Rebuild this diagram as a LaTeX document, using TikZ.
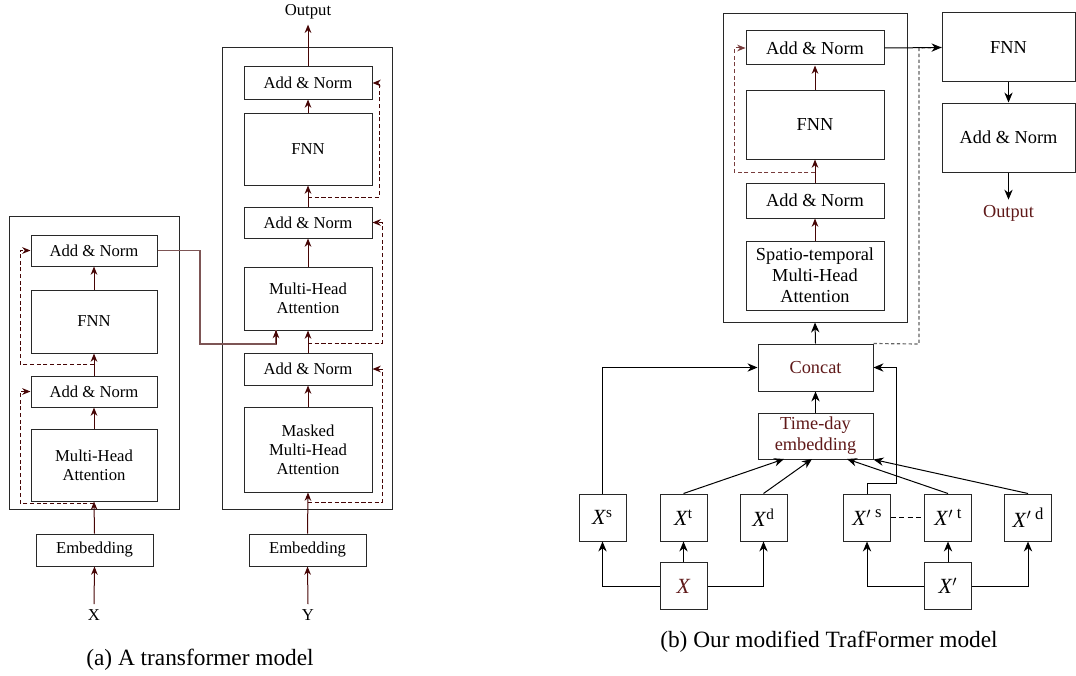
\documentclass[tikz,border=0pt]{standalone}
\usepackage{fontspec}
\setmainfont{Liberation Serif}
\usetikzlibrary{arrows.meta}
\definecolor{ared}{RGB}{70,5,5}
\definecolor{lred}{RGB}{125,85,85}
\definecolor{tred}{RGB}{95,25,25}
\definecolor{bline}{RGB}{40,40,40}
\definecolor{rbrown}{RGB}{120,60,60}
\definecolor{gline}{RGB}{100,100,100}
\begin{document}
\begin{tikzpicture}[x=0.6pt,y=-0.6pt,
  bx/.style n args={2}{draw=bline, line width=0.6pt, minimum width={#1*0.6pt}, minimum height={#2*0.6pt}, inner sep=1pt, align=center, anchor=center},
  fa/.style={font=\fontsize{10}{11.5}\selectfont},
  fb/.style={font=\fontsize{11}{12.5}\selectfont},
  fx/.style={font=\fontsize{13}{14}\selectfont},
  lbl/.style={inner sep=3pt},
  arr/.style={draw=ared, line width=0.6pt, -{Stealth[length=5pt,width=4pt]}},
  res/.style={draw=ared, line width=0.6pt, dash pattern=on 2.5pt off 1.5pt, -{Stealth[length=5pt,width=4pt]}},
  resb/.style={draw=rbrown, line width=0.6pt, dash pattern=on 2.5pt off 1.5pt, -{Stealth[length=5pt,width=4pt]}},
  conn/.style={draw=lred, line width=0.7pt},
  barr/.style={draw=black, line width=0.6pt, -{Stealth[length=6pt,width=5pt]}},
  gdash/.style={draw=gline, line width=0.7pt, dash pattern=on 2pt off 1.5pt},
  kdash/.style={draw=black, line width=0.6pt, dash pattern=on 3pt off 2pt},
]
\useasboundingbox (0,0) rectangle (1076,675);

% ================= (a) encoder =================
\node[bx={170}{293}] (encbox) at (94,362.5) {};
\node[bx={126}{31},fa] (eAN2) at (94,250.5) {Add \& Norm};
\node[bx={126}{63},fa] (eFNN) at (94,321.5) {FNN};
\node[bx={126}{31},fa] (eAN1) at (94,391.5) {Add \& Norm};
\node[bx={126}{72},fa] (eMHA) at (94,465) {Multi-Head\\Attention};
\node[bx={117}{32},fa] (eEmb) at (94.5,550) {Embedding};
\node[fa,lbl] (xin) at (94,615) {X};

\draw[arr] (xin.north) -- (eEmb.south);
\draw[arr] (eEmb.north) -- (eMHA.south);
\draw[arr] (eMHA.north) -- (eAN1.south);
\draw[arr] (eAN1.north) -- (eFNN.south);
\draw[arr] (eFNN.north) -- (eAN2.south);
\coordinate (eR1) at (94,503);
\coordinate (eR2) at (94,364);
\draw[res] (eR1) -- (20,503) |- (eAN1.west);
\draw[res] (eR2) -- (20,364) |- (eAN2.west);

% ================= (a) decoder =================
\node[bx={170}{461}] (decbox) at (307,278.5) {};
\node[bx={128}{32},fa] (dAN3) at (308,83) {Add \& Norm};
\node[bx={128}{72},fa] (dFNN) at (308,149) {FNN};
\node[bx={128}{31},fa] (dAN2) at (308,222.5) {Add \& Norm};
\node[bx={128}{63},fa] (dMHA) at (308,298.5) {Multi-Head\\Attention};
\node[bx={128}{32},fa] (dAN1) at (308,369) {Add \& Norm};
\node[bx={128}{85},fa] (dMMHA) at (308,449.5) {Masked\\Multi-Head\\Attention};
\node[bx={117}{32},fa] (dEmb) at (307.5,550) {Embedding};
\node[fa,lbl] (yin) at (308,615) {Y};
\node[fa,lbl] (dout) at (308,12) {Output};

\draw[arr] (yin.north) -- (dEmb.south);
\draw[arr] (dEmb.north) -- (dMMHA.south);
\draw[arr] (dMMHA.north) -- (dAN1.south);
\draw[arr] (dAN1.north) -- (dMHA.south);
\draw[arr] (dMHA.north) -- (dAN2.south);
\draw[arr] (dAN2.north) -- (dFNN.south);
\draw[arr] (dFNN.north) -- (dAN3.south);
\draw[arr] (dAN3.north) -- (dout.south);
\coordinate (dR1) at (308,502);
\coordinate (dR2) at (308,343);
\coordinate (dR3) at (308,197);
\draw[res] (dR1) -- (382,502) |- (dAN1.east);
\draw[res] (dR2) -- (382,343) |- (dAN2.east);
\draw[res] (dR3) -- (379,197) |- (dAN3.east);

% encoder -> decoder
\coordinate (dMHAin) at (276,330);
\draw[conn] (eAN2.east) -| (200,344) -| (dMHAin);
\draw[arr] (276,344) -- (dMHAin);

\node[font=\fontsize{14}{16}\selectfont] (capa) at (200,660) {(a) A transformer model};

% ================= (b) =================
\node[bx={184}{308}] (rbox) at (815,168) {};
\node[bx={138}{34},fb] (rAN2) at (815,48) {Add \& Norm};
\node[bx={138}{69},fb] (rFNN) at (815,124.5) {FNN};
\node[bx={138}{35},fb] (rAN1) at (815,200.5) {Add \& Norm};
\node[bx={138}{69},fb] (rMHA) at (815,275.5) {Spatio-temporal\\Multi-Head\\Attention};
\node[bx={115}{47},fb,text=tred] (concat) at (815.5,367.5) {Concat};
\node[bx={115}{46},fb,text=tred] (td) at (815.5,436) {Time-day\\embedding};
\node[bx={133}{69},fb] (fnn2) at (1008.5,47.5) {FNN};
\node[bx={133}{69},fb] (an2) at (1008.5,137.5) {Add \& Norm};
\node[fb,lbl,text=tred] (rout) at (1008.5,213) {Output};

\draw[arr] (rMHA.north) -- (rAN1.south);
\draw[arr] (rAN1.north) -- (rFNN.south);
\draw[arr] (rFNN.north) -- (rAN2.south);
\coordinate (rR1) at (815,172);
\draw[resb] (rR1) -- (734,172) |- (rAN2.west);
\draw[barr] (concat.north) -- (rbox.south);
\draw[barr] (td.north) -- (concat.south);
\draw[gdash] (concat.north east) -- (919,344) -- (919,48) -- (fnn2.west);
\draw[barr] (rAN2.east) -- (fnn2.west);
\draw[barr] (fnn2.south) -- (an2.north);
\draw[barr] (an2.south) -- (rout.north);

% inputs
\node[bx={47}{47},fx] (xs) at (602.5,517.5) {\textit{X}\textsuperscript{s}};
\node[bx={47}{47},fx] (xt) at (683.5,517.5) {\textit{X}\textsuperscript{t}};
\node[bx={47}{47},fx] (xd) at (763.5,517.5) {\textit{X}\textsuperscript{d}};
\node[bx={47}{47},fx,text=tred] (xx) at (683.5,586) {\textit{X}};
\node[bx={47}{47},fx] (xps) at (867,517.5) {\textit{X}$'$\,\raisebox{0.75ex}{\fontsize{10}{11}\selectfont s}};
\node[bx={47}{47},fx] (xpt) at (948,517.5) {\textit{X}$'$\,\raisebox{0.75ex}{\fontsize{10}{11}\selectfont t}};
\node[bx={47}{47},fx] (xpd) at (1028,517.5) {\textit{X}$'$\,\raisebox{0.75ex}{\fontsize{10}{11}\selectfont d}};
\node[bx={47}{47},fx] (xp) at (948,586) {\textit{X}$'$};

\draw[barr] (xx.west) -| (xs.south);
\draw[barr] (xx.east) -| (xd.south);
\draw[barr] (xx.north) -- (xt.south);
\draw[barr] (xp.west) -| (xps.south);
\draw[barr] (xp.east) -| (xpd.south);
\draw[barr] (xp.north) -- (xpt.south);
\draw[kdash] (xps.east) -- (xpt.west);

\coordinate (td1) at (784,459);
\coordinate (td2) at (812,459);
\coordinate (td3) at (847,459);
\draw[barr] (xs.north) |- (concat.west);
\draw[barr] (xt.north) -- (td1);
\draw[barr] (xd.north) -- (td2);
\draw[barr] (xpt.north) -- (td3);
\draw[barr] (xpd.north) -- (td.south east);
\draw[barr] (xps.north) -- (867,483) -| (896,367.5) -- (concat.east);

\node[font=\fontsize{14}{16}\selectfont] (capb) at (829,642) {(b) Our modified TrafFormer model};
\end{tikzpicture}
\end{document}
